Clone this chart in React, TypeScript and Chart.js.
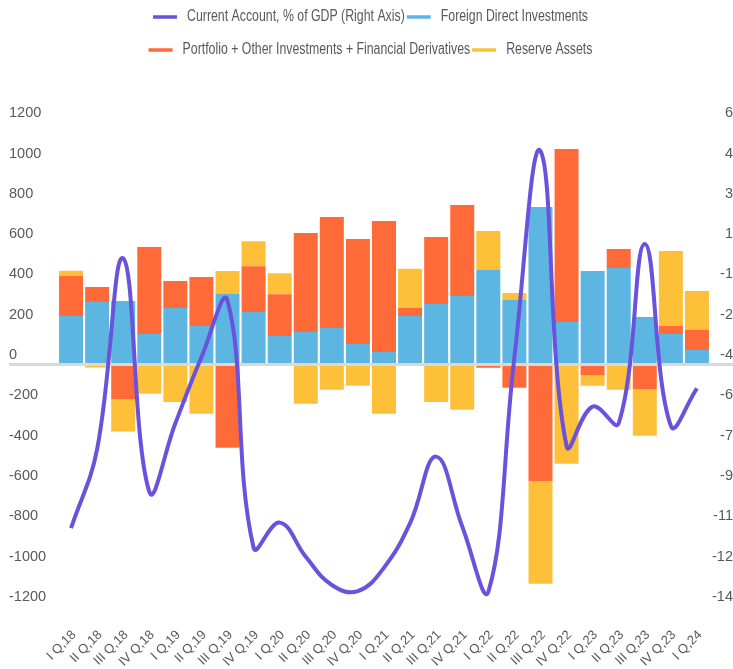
import React, { useEffect, useRef } from "react";
import { Chart, registerables } from "chart.js";

Chart.register(...registerables);

const CATEGORIES = [
  "I Q,18", "II Q,18", "III Q,18", "IV Q,18",
  "I Q,19", "II Q,19", "III Q,19", "IV Q,19",
  "I Q,20", "II Q,20", "III Q,20", "IV Q,20",
  "I Q,21", "II Q,21", "III Q,21", "IV Q,21",
  "I Q,22", "II Q,22", "III Q,22", "IV Q,22",
  "I Q,23", "II Q,23", "III Q,23", "IV Q,23",
  "I Q,24",
];

const CURRENT_ACCOUNT = [
  -10.77, -7.5, 0.39, -9.26, -6.43, -3.7, -1.36, -11.58, -10.54, -11.95, -13.12, -13.37,
  -12.4, -10.56, -7.81, -10.7, -13.4, -3.7, 4.83, -7.37, -5.74, -6.43, 0.98, -6.54, -4.99,
];

const FDI = [
  241, 310, 315, 151, 280, 191, 350, 260, 141, 161, 181, 102,
  62, 241, 300, 340, 469, 320, 782, 211, 464, 479, 236, 151, 72,
];

const PORTFOLIO = [
  199, 74, -171, 432, 134, 243, -413, 228, 208, 491, 551, 521,
  650, 40, 333, 452, -16, -115, -578, 859, -52, 94, -122, 40, 99,
];

const RESERVES = [
  25, -15, -162, -145, -186, -244, 114, 124, 104, -195, -125, -105,
  -244, 194, -186, -224, 194, 35, -510, -492, -53, -125, -232, 372, 194,
];

const LEFT_TICKS = [1200, 1000, 800, 600, 400, 200, 0, -200, -400, -600, -800, -1000, -1200];
const RIGHT_MIN = -14;
const RIGHT_MAX = 6;
const RIGHT_TICKS = Array.from({ length: 13 }, (_, i) => RIGHT_MIN + (i * (RIGHT_MAX - RIGHT_MIN)) / 12);

const LABELS = {
  ca: "Current Account, % of GDP (Right Axis)",
  fdi: "Foreign Direct Investments",
  pf: "Portfolio + Other Investments + Financial Derivatives",
  res: "Reserve Assets",
};

const COLORS = {
  ca: "#6a52dc",
  fdi: "#5db6e2",
  pf: "#ff6b38",
  res: "#fdc038",
  text: "#595959",
  zero: "#d9d9d9",
};

const FONT = '"Liberation Sans", Arial, sans-serif';

const legendPlugin = {
  id: "customLegend",
  afterDraw(chart: any) {
    const ctx = chart.ctx;
    const rows = [[0, 1], [2, 3]];
    const rowY = [17, 50];
    const iconW = 24;
    const iconH = 3.5;
    const gapIcon = 10;
    const gapItem = 2;
    const sx = 0.77;
    ctx.save();
    ctx.font = `16px ${FONT}`;
    ctx.textBaseline = "middle";
    ctx.textAlign = "left";
    rows.forEach((row, r) => {
      const widths = row.map(
        (i) => iconW + gapIcon + ctx.measureText(chart.data.datasets[i].label).width * sx
      );
      const total = widths.reduce((a: number, b: number) => a + b, 0) + gapItem * (row.length - 1);
      let x = chart.width / 2 + 4 - total / 2;
      row.forEach((i, k) => {
        const ds = chart.data.datasets[i];
        ctx.fillStyle = ds.legendColor;
        ctx.fillRect(x, rowY[r] - iconH / 2, iconW, iconH);
        ctx.fillStyle = COLORS.text;
        ctx.save();
        ctx.translate(x + iconW + gapIcon, rowY[r]);
        ctx.scale(sx, 1);
        ctx.fillText(ds.label, 0, 0);
        ctx.restore();
        x += widths[k] + gapItem;
      });
    });
    ctx.restore();
  },
};

const zeroLinePlugin = {
  id: "zeroLine",
  beforeDatasetDraw(chart: any, args: any) {
    if (args.meta.type !== "line") return;
    const yScale = chart.scales.y;
    const y = yScale.getPixelForValue(0);
    const ctx = chart.ctx;
    ctx.save();
    ctx.strokeStyle = COLORS.zero;
    ctx.lineWidth = 3;
    ctx.beginPath();
    ctx.moveTo(yScale.left, y);
    ctx.lineTo(chart.width, y);
    ctx.stroke();
    ctx.restore();
  },
};

export default function App() {
  const ref = useRef<HTMLCanvasElement>(null);

  useEffect(() => {
    if (!ref.current) return;
    const tickFont = { family: FONT, size: 14.5 };
    const chart = new Chart(ref.current, {
      type: "bar",
      data: {
        labels: CATEGORIES,
        datasets: [
          {
            type: "line",
            label: LABELS.ca,
            data: CURRENT_ACCOUNT,
            yAxisID: "y2",
            borderColor: COLORS.ca,
            backgroundColor: COLORS.ca,
            borderWidth: 4,
            pointRadius: 0,
            tension: 0.42,
            fill: false,
            order: 0,
            legendColor: COLORS.ca,
          } as any,
          {
            type: "bar",
            label: LABELS.fdi,
            data: FDI,
            yAxisID: "y",
            backgroundColor: COLORS.fdi,
            barPercentage: 0.92,
            categoryPercentage: 1,
            order: 1,
            legendColor: COLORS.fdi,
          } as any,
          {
            type: "bar",
            label: LABELS.pf,
            data: PORTFOLIO,
            yAxisID: "y",
            backgroundColor: COLORS.pf,
            barPercentage: 0.92,
            categoryPercentage: 1,
            order: 1,
            legendColor: COLORS.pf,
          } as any,
          {
            type: "bar",
            label: LABELS.res,
            data: RESERVES,
            yAxisID: "y",
            backgroundColor: COLORS.res,
            barPercentage: 0.92,
            categoryPercentage: 1,
            order: 1,
            legendColor: COLORS.res,
          } as any,
        ],
      },
      options: {
        responsive: false,
        animation: false,
        devicePixelRatio: 1,
        layout: {
          autoPadding: false,
          padding: { top: 122.7, left: 9, right: 0, bottom: 0 },
        },
        plugins: {
          legend: { display: false },
          tooltip: { enabled: false },
          title: { display: false },
        },
        scales: {
          x: {
            stacked: true,
            offset: true,
            grid: { display: false, drawTicks: false },
            border: { display: false },
            ticks: {
              autoSkip: false,
              minRotation: 45,
              maxRotation: 45,
              padding: 21,
              labelOffset: 3,
              color: COLORS.text,
              font: { family: FONT, size: 13 },
            },
            afterFit: (s: any) => {
              s.height = 62.7;
            },
          },
          y: {
            position: "left",
            stacked: true,
            min: -1200,
            max: 1200,
            afterBuildTicks: (s: any) => {
              s.ticks = LEFT_TICKS.map((v) => ({ value: v }));
            },
            grid: { display: false, drawTicks: false },
            border: { display: false },
            ticks: {
              crossAlign: "far",
              labelOffset: -9.5,
              padding: 0,
              color: COLORS.text,
              font: tickFont,
              callback: (v: any) => String(v),
            },
            afterFit: (s: any) => {
              s.width = 49;
            },
          },
          y2: {
            position: "right",
            min: RIGHT_MIN,
            max: RIGHT_MAX,
            afterBuildTicks: (s: any) => {
              s.ticks = RIGHT_TICKS.map((v) => ({ value: v }));
            },
            grid: { display: false, drawTicks: false },
            border: { display: false },
            ticks: {
              crossAlign: "far",
              labelOffset: -9.5,
              padding: 0,
              color: COLORS.text,
              font: tickFont,
              callback: (v: any) => String(Math.round(Number(v))),
            },
            afterFit: (s: any) => {
              s.width = 23;
            },
          },
        },
      } as any,
      plugins: [zeroLinePlugin, legendPlugin],
    });
    return () => chart.destroy();
  }, []);

  return (
    <div
      style={{
        position: "absolute",
        left: 0,
        top: 0,
        width: 733,
        height: 669,
        background: "#ffffff",
      }}
    >
      <canvas
        ref={ref}
        width={733}
        height={669}
        style={{ display: "block", width: 733, height: 669 }}
      />
    </div>
  );
}
